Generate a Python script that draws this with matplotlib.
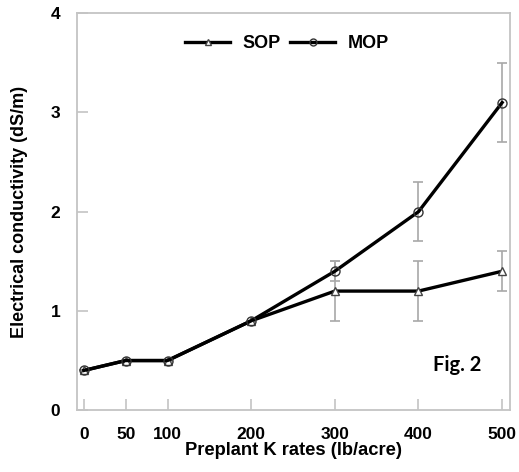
import numpy as np
import matplotlib
matplotlib.use('Agg')
import matplotlib.pyplot as plt

rates = [0, 50, 100, 200, 300, 400, 500]
sop = [0.4, 0.5, 0.5, 0.9, 1.2, 1.2, 1.4]
sop_err = [0, 0, 0, 0, 0.3, 0.3, 0.2]
mop = [0.4, 0.5, 0.5, 0.9, 1.4, 2.0, 3.1]
mop_err = [0, 0, 0, 0, 0.1, 0.3, 0.4]

plt.rcParams['font.family'] = ['Liberation Sans', 'DejaVu Sans']

fig = plt.figure(figsize=(5.19, 4.72), dpi=100)
ax = fig.add_axes([0.148, 0.131, 0.835, 0.841])

errcol = '#a8a8a8'
ax.errorbar(rates, sop, yerr=sop_err, fmt='none', ecolor=errcol, elinewidth=1.2, capsize=3.5, capthick=1.2, zorder=1)
ax.errorbar(rates, mop, yerr=mop_err, fmt='none', ecolor=errcol, elinewidth=1.2, capsize=3.5, capthick=1.2, zorder=1)
ax.plot(rates, sop, color='black', lw=2.4, marker='^', ms=6, mfc='white', mec='#444444', mew=1.0, label='SOP', zorder=3)
ax.plot(rates, mop, color='black', lw=2.4, marker='o', ms=6.5, mfc='none', mec='#333333', mew=1.0, label='MOP', zorder=3)

ax.set_xlim(-8.4, 509.6)
ax.set_ylim(0, 4)
ax.set_xticks(rates)
ax.set_yticks([0, 1, 2, 3, 4])

for s in ax.spines.values():
    s.set_color('#c4c4c4')
    s.set_linewidth(1.3)
ax.tick_params(direction='in', length=8, width=1.2, color='#c4c4c4', labelsize=12.5, pad=12)
ax.tick_params(axis='x', pad=12)
for lab in ax.get_xticklabels() + ax.get_yticklabels():
    lab.set_fontweight('bold')

ax.set_xlabel('Preplant K rates (lb/acre)', fontsize=13.2, fontweight='bold', labelpad=0)
ax.set_ylabel('Electrical conductivity (dS/m)', fontsize=13, fontweight='bold', labelpad=16)

leg = ax.legend(loc='upper center', bbox_to_anchor=(0.485, 0.985), ncol=2, frameon=False,
                prop={'weight': 'bold', 'size': 13}, handlelength=2.5, columnspacing=0.5, handletextpad=0.7)
for h in leg.legend_handles:
    h.set_markersize(5)

ax.text(0.933, 0.098, 'Fig. 2', transform=ax.transAxes, ha='right', va='baseline',
        fontsize=14.5, fontweight='bold', family=['Lato', 'DejaVu Sans'])

fig.savefig('out.png', dpi=100)
